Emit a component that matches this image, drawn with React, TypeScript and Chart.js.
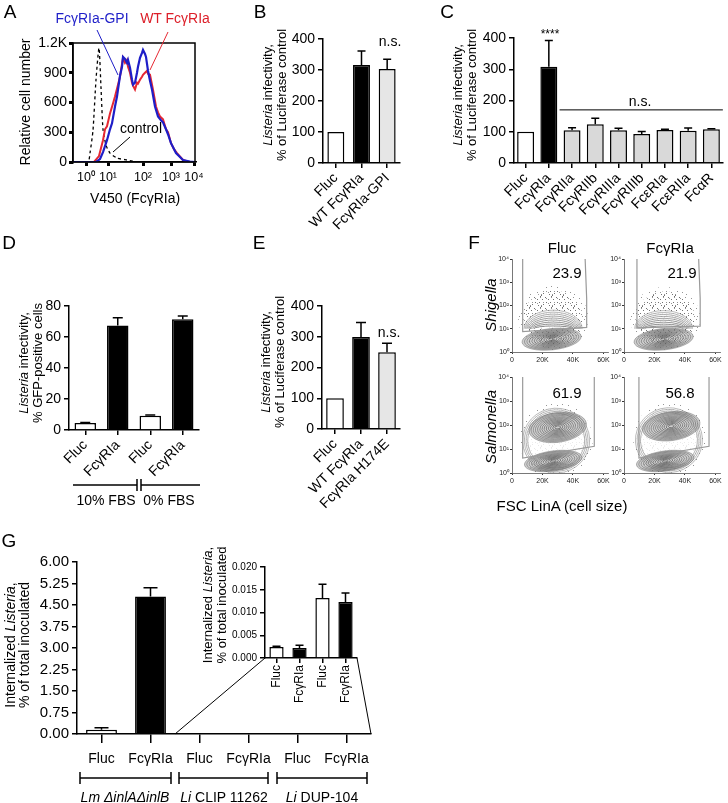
import React, { useEffect, useRef } from 'react';
import { Chart, registerables } from 'chart.js';

Chart.register(...registerables);

const FONT = '"Liberation Sans", Arial, Helvetica, sans-serif';
Chart.defaults.font.family = FONT;
Chart.defaults.color = '#000';

// ---------------- DATA ----------------
// Panel A (flow histogram; x in display channel units)
const aTickPos = [13, 35, 70, 98, 121];
const aTickLabels = ['10⁰', '10¹', '10²', '10³', '10⁴'];
const aYTicks = [0, 300, 600, 900, 1200];
const aCtrlX = [0, 15, 17, 20, 23, 26, 28, 30, 33, 37, 44, 54, 65, 122];
const aCtrlY = [0, 0, 90, 320, 830, 1150, 750, 330, 170, 90, 40, 20, 0, 0];
const aWtX = [0, 21, 26, 30, 32, 34, 37, 40, 42, 45, 47, 49, 50, 52, 54, 55, 57, 59, 60, 62, 64, 65, 67, 69, 70, 72, 74, 75, 77, 80, 83, 85, 87, 90, 93, 95, 98, 101, 104, 110, 116, 122];
const aWtY = [0, 0, 60, 220, 330, 360, 490, 590, 660, 780, 860, 990, 1050, 1000, 1030, 960, 900, 800, 770, 730, 800, 790, 830, 860, 880, 900, 920, 890, 880, 730, 560, 500, 460, 430, 330, 300, 190, 130, 90, 20, 0, 0];
const aGpiX = [0, 23, 27, 30, 34, 37, 39, 42, 44, 47, 49, 50, 52, 54, 55, 57, 59, 60, 62, 64, 65, 67, 69, 70, 72, 73, 75, 77, 79, 82, 85, 88, 90, 93, 95, 98, 103, 110, 117, 122];
const aGpiY = [0, 0, 30, 100, 220, 330, 390, 560, 660, 870, 960, 1060, 1040, 1000, 1030, 950, 830, 780, 800, 900, 960, 1050, 1100, 1130, 1090, 1060, 920, 820, 730, 560, 460, 420, 400, 330, 280, 190, 90, 20, 5, 0];

// Panel B
const bLabels = ['Fluc', 'WT FcγRIa', 'FcγRIa-GPI'];
const bValues = [100, 316, 303];
const bErrors = [null, 361, 335];

// Panel C
const cLabels = ['Fluc', 'FcγRIa', 'FcγRIIa', 'FcγRIIb', 'FcγRIIIa', 'FcγRIIIb', 'FcεRIa', 'FcεRIIa', 'FcαR'];
const cValues = [100, 308, 105, 124, 105, 93, 106, 103, 108];
const cErrors = [null, 392, 113, 143, 111, 101, 108, 112, 110];
const cNsValue = 170;

// Panel D
const dLabels = ['Fluc', 'FcγRIa', 'Fluc', 'FcγRIa'];
const dValues = [4.5, 67.5, 9.2, 71.5];
const dErrors = [4.8, 72.5, 9.7, 73.5];

// Panel E
const eLabels = ['Fluc', 'WT FcγRIa', 'FcγRIa H174E'];
const eValues = [100, 299, 250];
const eErrors = [null, 346, 279];

// Panel F (flow plots)
const fXTicks = [0, 20000, 40000, 60000];
const fXLabels = ['0', '20K', '40K', '60K'];
const fYTicks = [1, 10, 100, 1000, 10000];
const fYLabels = ['10⁰', '10¹', '10²', '10³', '10⁴'];
// gates: [FSC, fluorescence]
const fShFlucGate = [[7000, 10000], [7000, 7.5], [49000, 11.5], [49000, 200], [48000, 10000]];
const fShFcGate = [[8500, 10000], [8500, 11], [50000, 13], [50000, 200], [49000, 10000]];
const fSaFlucGate = [[7000, 10000], [7000, 4.2], [54000, 13], [54000, 10000]];
const fSaFcGate = [[9800, 10000], [9800, 4.2], [55800, 13], [55800, 10000]];
// populations: [cx, log10 cy, rx, log10 ry, tilt, levels, arch, minLevel]
const fShFlucPops = [[27000, 1.0, 19000, 0.8, 0, 9, 1, 0.15], [26000, 0.55, 19500, 0.46, -6, 12, 0, 0.1]];
const fShFcPops = [[26000, 1.0, 19000, 0.78, 0, 9, 1, 0.15], [26000, 0.55, 19500, 0.46, -6, 12, 0, 0.1]];
const fSaFlucPops = [[29000, 1.35, 22000, 1.35, -3, 4, 0, 0.85], [30000, 1.9, 19000, 0.62, -8, 13, 0, 0.1], [27000, 0.5, 19000, 0.42, -8, 12, 0, 0.1]];
const fSaFcPops = [[29500, 1.37, 22000, 1.35, -3, 4, 0, 0.85], [31000, 1.95, 19000, 0.6, -8, 13, 0, 0.1], [27000, 0.5, 19000, 0.42, -8, 12, 0, 0.1]];
const fShFlucEnv = [27000, 1.45, 23000, 1.4];
const fShFcEnv = [27000, 1.45, 23000, 1.35];
const fSaFlucEnv = [29000, 1.35, 24000, 1.6];
const fSaFcEnv = [30000, 1.37, 24000, 1.6];
const fPercents = ['23.9', '21.9', '61.9', '56.8'];

// Panel G
const gLabels = ['Fluc', 'FcγRIa', 'Fluc', 'FcγRIa', 'Fluc', 'FcγRIa'];
const gValues = [0.15, 4.8, null, null, null, null];
const gErrors = [0.22, 5.1, null, null, null, null];
const gInsetLabels = ['Fluc', 'FcγRIa', 'Fluc', 'FcγRIa'];
const gInsetValues = [0.0024, 0.0022, 0.0132, 0.0123];
const gInsetErrors = [0.0026, 0.0028, 0.0162, 0.0143];

// ---------------- PLUGINS ----------------
const errPlugin = {
  id: 'errbars',
  afterDatasetsDraw(chart: any, _a: any, opts: any) {
    const errs = opts && opts.errors;
    if (!errs) return;
    const meta = chart.getDatasetMeta(0);
    const ys = chart.scales.y;
    const ctx = chart.ctx;
    ctx.save();
    ctx.strokeStyle = '#000';
    ctx.lineWidth = opts.lw || 1.5;
    meta.data.forEach((bar: any, i: number) => {
      const e = errs[i];
      const v = chart.data.datasets[0].data[i];
      if (e == null || v == null) return;
      const x = bar.x;
      const y0 = ys.getPixelForValue(v);
      const y1 = ys.getPixelForValue(e);
      ctx.beginPath();
      ctx.moveTo(x, y0);
      ctx.lineTo(x, y1);
      ctx.moveTo(x - opts.cap / 2, y1);
      ctx.lineTo(x + opts.cap / 2, y1);
      ctx.stroke();
    });
    ctx.restore();
  },
};

const nsLinePlugin = {
  id: 'nsline',
  afterDatasetsDraw(chart: any, _a: any, opts: any) {
    if (!opts || opts.value == null) return;
    const meta = chart.getDatasetMeta(0);
    const b0 = meta.data[opts.from];
    const b1 = meta.data[opts.to];
    const y = chart.scales.y.getPixelForValue(opts.value);
    const ctx = chart.ctx;
    ctx.save();
    ctx.strokeStyle = '#000';
    ctx.lineWidth = 1;
    ctx.beginPath();
    ctx.moveTo(b0.x - b0.width / 2 - 4, y);
    ctx.lineTo(b1.x + b1.width / 2 + 3, y);
    ctx.stroke();
    ctx.restore();
  },
};

const framePlugin = {
  id: 'frame',
  afterDraw(chart: any) {
    const { ctx, chartArea: a } = chart;
    ctx.save();
    ctx.strokeStyle = '#000';
    ctx.lineWidth = 1.5;
    ctx.strokeRect(a.left, a.top, a.right - a.left, a.bottom - a.top);
    ctx.restore();
  },
};

function dotPattern(ctx: CanvasRenderingContext2D, alpha: number, dense: boolean) {
  const c = document.createElement('canvas');
  c.width = 11;
  c.height = 11;
  const g = c.getContext('2d')!;
  g.fillStyle = `rgba(20,20,20,${alpha})`;
  const spots = dense
    ? [[1, 0], [6, 1], [9, 3], [3, 3], [0, 6], [7, 6], [4, 8], [10, 9], [2, 10]]
    : [[1, 1], [7, 2], [4, 6], [9, 7], [2, 9]];
  spots.forEach(([x, y]) => g.fillRect(x, y, 1, 1));
  return ctx.createPattern(c, 'repeat');
}

const flowPlugin = {
  id: 'flow',
  beforeDatasetsDraw(chart: any, _a: any, opts: any) {
    if (!opts || !opts.pops) return;
    const { ctx, chartArea: ca, scales } = chart;
    const xs = scales.x, ys = scales.y;
    const px = (v: number) => xs.getPixelForValue(v);
    const py = (l: number) => ys.getPixelForValue(Math.pow(10, l));
    ctx.save();
    ctx.beginPath();
    ctx.rect(ca.left, ca.top, ca.right - ca.left, ca.bottom - ca.top);
    ctx.clip();
    const env = opts.env;
    const EX = px(env[0]), EY = py(env[1]);
    const ERX = px(env[0] + env[2]) - EX, ERY = EY - py(env[1] + env[3]);
    ctx.fillStyle = dotPattern(ctx, 0.45, false);
    ctx.beginPath();
    ctx.ellipse(EX, EY, ERX, ERY, 0, 0, Math.PI * 2);
    ctx.fill();
    ctx.fillStyle = dotPattern(ctx, 0.6, true);
    ctx.beginPath();
    ctx.ellipse(EX, EY, ERX * 0.85, ERY * 0.85, 0, 0, Math.PI * 2);
    ctx.fill();
    for (const p of opts.pops) {
      const [cx, cl, rx, rl, ang, n, arch, minS] = p;
      const X = px(cx), Y = py(cl);
      const RX = px(cx + rx) - X, RY = Y - py(cl + rl);
      const rot = (ang * Math.PI) / 180;
      ctx.beginPath();
      if (arch) ctx.ellipse(X, Y, RX, RY, 0, Math.PI, Math.PI * 2);
      else ctx.ellipse(X, Y, RX, RY, rot, 0, Math.PI * 2);
      ctx.fillStyle = arch || minS > 0.5 ? 'rgba(255,255,255,0.85)' : 'rgba(175,175,175,0.6)';
      ctx.fill();
      ctx.lineWidth = 0.7;
      for (let k = 0; k < n; k++) {
        const s = 1 - ((1 - minS) * k) / Math.max(1, n - 1);
        ctx.strokeStyle = `rgba(60,60,60,${0.5 + 0.4 * (1 - s)})`;
        ctx.beginPath();
        if (arch) ctx.ellipse(X, Y, RX * (0.6 + 0.4 * s), RY * s, 0, Math.PI, Math.PI * 2);
        else ctx.ellipse(X, Y, RX * s, RY * s, rot, 0, Math.PI * 2);
        ctx.stroke();
      }
    }
    ctx.restore();
  },
};

// ---------------- HELPERS ----------------
function axisGrid(tickLen: number, tickW = 1.5) {
  return {
    display: true,
    drawOnChartArea: false,
    drawTicks: true,
    tickLength: tickLen,
    tickWidth: tickW,
    tickColor: '#000',
    color: '#000',
    lineWidth: tickW,
    offset: false,
  };
}
const border = (w = 1.5, c = '#000') => ({ display: true, color: c, width: w });

function makeBar(canvas: HTMLCanvasElement, s: any) {
  return new Chart(canvas, {
    type: 'bar',
    data: {
      labels: s.labels,
      datasets: [
        {
          data: s.values,
          backgroundColor: s.colors,
          borderColor: '#000',
          borderWidth: 1.5,
          barPercentage: s.barPct,
          categoryPercentage: 1,
        },
      ],
    },
    options: {
      responsive: false,
      animation: false,
      devicePixelRatio: 1,
      layout: { padding: { top: s.padTop, right: s.padRight, left: 0, bottom: 0 } },
      plugins: {
        legend: { display: false },
        tooltip: { enabled: false },
        errbars: { errors: s.errors, cap: s.cap },
        nsline: s.ns || {},
      },
      scales: {
        x: {
          type: 'category',
          offset: true,
          grid: axisGrid(s.xTickLen ?? 5),
          border: border(),
          ticks: {
            autoSkip: false,
            minRotation: s.rot,
            maxRotation: s.rot,
            padding: s.xPad ?? 2,
            font: { size: s.xFont },
            color: '#000',
          },
          afterFit: (sc: any) => {
            sc.height = s.xH;
            sc.paddingLeft = 0;
            sc.paddingRight = 0;
          },
        },
        y: {
          type: 'linear',
          min: s.yMin,
          max: s.yMax,
          grid: axisGrid(5),
          border: border(),
          ticks: {
            stepSize: s.yStep,
            font: { size: s.yFont },
            padding: 3,
            color: '#000',
            callback: s.yFmt,
          },
          afterFit: (sc: any) => {
            sc.width = s.yW;
            sc.paddingTop = 0;
            sc.paddingBottom = 0;
          },
        },
      },
    } as any,
    plugins: [errPlugin, nsLinePlugin],
  });
}

const pts = (xs: number[], ys: number[]) => xs.map((x, i) => ({ x, y: ys[i] }));

function makeHist(canvas: HTMLCanvasElement) {
  return new Chart(canvas, {
    type: 'scatter',
    data: {
      datasets: [
        { data: pts(aGpiX, aGpiY), showLine: true, borderColor: 'rgb(30,30,200)', borderWidth: 2.2, pointRadius: 0, tension: 0 },
        { data: pts(aWtX, aWtY), showLine: true, borderColor: 'rgb(230,40,50)', borderWidth: 2, pointRadius: 0, tension: 0 },
        { data: pts(aCtrlX, aCtrlY), showLine: true, borderColor: '#000', borderDash: [3, 3], borderWidth: 1.3, pointRadius: 0, tension: 0.2 },
      ],
    },
    options: {
      responsive: false,
      animation: false,
      devicePixelRatio: 1,
      layout: { padding: { top: 8, right: 13, left: 0, bottom: 0 } },
      plugins: { legend: { display: false }, tooltip: { enabled: false } },
      scales: {
        x: {
          type: 'linear',
          min: 0,
          max: 122,
          afterBuildTicks: (sc: any) => {
            sc.ticks = aTickPos.map((v) => ({ value: v }));
          },
          ticks: { font: { size: 12.5 }, padding: 4, color: '#000', callback: (v: any) => aTickLabels[aTickPos.indexOf(v)] },
          grid: axisGrid(4, 3),
          border: border(1.5),
          afterFit: (sc: any) => {
            sc.height = 33;
            sc.paddingLeft = 0;
            sc.paddingRight = 0;
          },
        },
        y: {
          type: 'linear',
          min: 0,
          max: 1200,
          afterBuildTicks: (sc: any) => {
            sc.ticks = aYTicks.map((v) => ({ value: v }));
          },
          ticks: { font: { size: 14 }, padding: 2, color: '#000', callback: (v: any) => (v === 1200 ? '1.2K' : String(v)) },
          grid: axisGrid(4, 3),
          border: border(1.5),
          afterFit: (sc: any) => {
            sc.width = 43;
            sc.paddingTop = 0;
            sc.paddingBottom = 0;
          },
        },
      },
    } as any,
    plugins: [framePlugin],
  });
}

function makeFlow(canvas: HTMLCanvasElement, gate: number[][], pops: number[][], env: number[]) {
  return new Chart(canvas, {
    type: 'scatter',
    data: {
      datasets: [
        {
          data: gate.map((p) => ({ x: p[0], y: p[1] })),
          showLine: true,
          borderColor: '#9a9a9a',
          borderWidth: 1.2,
          pointRadius: 0,
          tension: 0,
        },
      ],
    },
    options: {
      responsive: false,
      animation: false,
      devicePixelRatio: 1,
      layout: { padding: { top: 7, right: 3, left: 0, bottom: 0 } },
      plugins: { legend: { display: false }, tooltip: { enabled: false }, flow: { pops, env } },
      scales: {
        x: {
          type: 'linear',
          min: 0,
          max: 63000,
          afterBuildTicks: (sc: any) => {
            sc.ticks = fXTicks.map((v) => ({ value: v }));
          },
          ticks: { font: { size: 7 }, padding: 2, color: '#222', callback: (v: any) => fXLabels[fXTicks.indexOf(v)] },
          grid: axisGrid(2, 0.8),
          border: border(0.8, '#555'),
          afterFit: (sc: any) => {
            sc.height = 16;
            sc.paddingLeft = 0;
            sc.paddingRight = 0;
          },
        },
        y: {
          type: 'logarithmic',
          min: 1,
          max: 10000,
          afterBuildTicks: (sc: any) => {
            sc.ticks = fYTicks.map((v) => ({ value: v }));
          },
          ticks: { font: { size: 7 }, padding: 1, color: '#222', callback: (v: any) => fYLabels[fYTicks.indexOf(v)] },
          grid: axisGrid(2, 0.8),
          border: border(0.8, '#555'),
          afterFit: (sc: any) => {
            sc.width = 17;
            sc.paddingTop = 0;
            sc.paddingBottom = 0;
          },
        },
      },
    } as any,
    plugins: [flowPlugin],
  });
}

// ---------------- COMPONENTS ----------------
function ChartCanvas({ x, y, w, h, make }: any) {
  const ref = useRef<HTMLCanvasElement>(null);
  useEffect(() => {
    const chart = make(ref.current);
    return () => chart.destroy();
  }, []);
  return (
    <canvas
      ref={ref}
      width={w}
      height={h}
      style={{ position: 'absolute', left: x, top: y, width: w, height: h, display: 'block' }}
    />
  );
}

function T({ x, y, size = 14, rot = 0, italic = false, color = '#000', children, lh }: any) {
  return (
    <div
      style={{
        position: 'absolute',
        left: x,
        top: y,
        transform: `translate(-50%, -50%) rotate(${rot}deg)`,
        fontSize: size,
        fontStyle: italic ? 'italic' : 'normal',
        color,
        whiteSpace: 'nowrap',
        textAlign: 'center',
        lineHeight: lh ? `${lh}px` : 'normal',
        fontFamily: FONT,
      }}
    >
      {children}
    </div>
  );
}

const listeriaInf = (
  <>
    <i>Listeria</i> infectivity,
  </>
);
const internalized = (
  <>
    Internalized <i>Listeria</i>,
  </>
);

export default function App() {
  const white = '#ffffff', black = '#000000', gray = '#d9d9d9', light = '#e6e6e6';
  return (
    <div style={{ position: 'absolute', left: 0, top: 0, width: 728, height: 803, background: '#fff', overflow: 'hidden', fontFamily: FONT }}>
      {/* Panel A */}
      <ChartCanvas x={30} y={35} w={178} h={160} make={(c: HTMLCanvasElement) => makeHist(c)} />
      {/* Panel B */}
      <ChartCanvas
        x={285} y={30} w={120} h={200}
        make={(c: HTMLCanvasElement) =>
          makeBar(c, {
            labels: bLabels, values: bValues, errors: bErrors, colors: [white, black, light],
            yMin: 0, yMax: 400, yStep: 100, rot: 45, xFont: 14, yFont: 14,
            yW: 38, xH: 67, padTop: 9, padRight: 5, barPct: 0.66, cap: 8,
          })
        }
      />
      {/* Panel C */}
      <ChartCanvas
        x={470} y={28} w={258} h={200}
        make={(c: HTMLCanvasElement) =>
          makeBar(c, {
            labels: cLabels, values: cValues, errors: cErrors,
            colors: [white, black, gray, gray, gray, gray, gray, gray, gray],
            yMin: 0, yMax: 400, yStep: 100, rot: 45, xFont: 14, yFont: 14,
            yW: 44, xH: 65, padTop: 10, padRight: 5, barPct: 0.73, cap: 8,
            ns: { from: 2, to: 8, value: cNsValue },
          })
        }
      />
      {/* Panel D */}
      <ChartCanvas
        x={20} y={298} w={183} h={182}
        make={(c: HTMLCanvasElement) =>
          makeBar(c, {
            labels: dLabels, values: dValues, errors: dErrors, colors: [white, black, white, black],
            yMin: 0, yMax: 80, yStep: 20, rot: 45, xFont: 14, yFont: 14,
            yW: 49, xH: 50, padTop: 8, padRight: 4, barPct: 0.66, cap: 10,
          })
        }
      />
      {/* Panel E */}
      <ChartCanvas
        x={280} y={296} w={125} h={230}
        make={(c: HTMLCanvasElement) =>
          makeBar(c, {
            labels: eLabels, values: eValues, errors: eErrors, colors: [white, black, light],
            yMin: 0, yMax: 400, yStep: 100, rot: 45, xFont: 14, yFont: 14,
            yW: 42, xH: 97, padTop: 10, padRight: 5, barPct: 0.68, cap: 10,
          })
        }
      />
      {/* Panel F */}
      <ChartCanvas x={495} y={252} w={116} h={116} make={(c: HTMLCanvasElement) => makeFlow(c, fShFlucGate, fShFlucPops, fShFlucEnv)} />
      <ChartCanvas x={607} y={252} w={116} h={116} make={(c: HTMLCanvasElement) => makeFlow(c, fShFcGate, fShFcPops, fShFcEnv)} />
      <ChartCanvas x={495} y={370} w={116} h={119} make={(c: HTMLCanvasElement) => makeFlow(c, fSaFlucGate, fSaFlucPops, fSaFlucEnv)} />
      <ChartCanvas x={607} y={370} w={116} h={119} make={(c: HTMLCanvasElement) => makeFlow(c, fSaFcGate, fSaFcPops, fSaFcEnv)} />
      {/* Panel G */}
      <ChartCanvas
        x={20} y={552} w={355} h={215}
        make={(c: HTMLCanvasElement) =>
          makeBar(c, {
            labels: gLabels, values: gValues, errors: gErrors, colors: [white, black, white, black, white, black],
            yMin: 0, yMax: 6, yStep: 0.75, rot: 0, xFont: 14, yFont: 15,
            yFmt: (v: any) => Number(v).toFixed(2),
            yW: 57, xH: 33, padTop: 10, padRight: 4, barPct: 0.63, cap: 14, xTickLen: 9, xPad: 8,
          })
        }
      />
      <ChartCanvas
        x={222} y={560} w={140} h={160}
        make={(c: HTMLCanvasElement) =>
          makeBar(c, {
            labels: gInsetLabels, values: gInsetValues, errors: gInsetErrors, colors: [white, black, white, black],
            yMin: 0, yMax: 0.02, yStep: 0.005, rot: 90, xFont: 12, yFont: 10,
            yFmt: (v: any) => Number(v).toFixed(3),
            yW: 43, xH: 62, padTop: 7, padRight: 5, barPct: 0.62, cap: 8, xTickLen: 5,
          })
        }
      />

      {/* Annotation lines */}
      <svg width={728} height={803} style={{ position: 'absolute', left: 0, top: 0, pointerEvents: 'none' }}>
        <line x1={97} y1={30} x2={118} y2={75} stroke="rgb(30,30,200)" strokeWidth={1} />
        <line x1={168} y1={32} x2={150} y2={70} stroke="rgb(230,40,50)" strokeWidth={1} />
        <line x1={130} y1={137} x2={113} y2={152} stroke="#000" strokeWidth={1} />
        {/* D bracket */}
        <line x1={73} y1={485} x2={137} y2={485} stroke="#000" strokeWidth={1.5} />
        <line x1={141} y1={485} x2={200} y2={485} stroke="#000" strokeWidth={1.5} />
        <line x1={137} y1={479} x2={137} y2={491} stroke="#000" strokeWidth={1.5} />
        <line x1={141} y1={479} x2={141} y2={491} stroke="#000" strokeWidth={1.5} />
        {/* G brackets */}
        {[[80, 171], [179, 268], [277, 367]].map(([a, b], i) => (
          <g key={i} stroke="#000" strokeWidth={1.5}>
            <line x1={a} y1={778} x2={b} y2={778} />
            <line x1={a} y1={772} x2={a} y2={784} />
            <line x1={b} y1={772} x2={b} y2={784} />
          </g>
        ))}
        {/* zoom lines */}
        <line x1={175} y1={734} x2={265} y2={658} stroke="#000" strokeWidth={1} />
        <line x1={371} y1={734} x2={357} y2={658} stroke="#000" strokeWidth={1} />
      </svg>

      {/* Panel letters */}
      <T x={10} y={12} size={19}>A</T>
      <T x={260} y={12} size={19}>B</T>
      <T x={447} y={12} size={19}>C</T>
      <T x={9} y={243} size={19}>D</T>
      <T x={259} y={243} size={19}>E</T>
      <T x={474} y={243} size={19}>F</T>
      <T x={9} y={541} size={19}>G</T>

      {/* Panel A texts */}
      <T x={92} y={18} size={14} color="rgb(30,30,200)">FcγRIa-GPI</T>
      <T x={175} y={18} size={14} color="rgb(220,30,40)">WT FcγRIa</T>
      <T x={141} y={128} size={14}>control</T>
      <T x={25} y={102} size={14} rot={-90}>Relative cell number</T>
      <T x={135} y={198} size={14}>V450 (FcγRIa)</T>

      {/* Panel B texts */}
      <T x={275} y={95} size={13} rot={-90} lh={14}>
        <div>{listeriaInf}</div>
        <div>% of Luciferase control</div>
      </T>
      <T x={390} y={41} size={14}>n.s.</T>

      {/* Panel C texts */}
      <T x={465} y={95} size={13} rot={-90} lh={14}>
        <div>{listeriaInf}</div>
        <div>% of Luciferase control</div>
      </T>
      <T x={550} y={34} size={12}>****</T>
      <T x={640} y={101} size={14}>n.s.</T>

      {/* Panel D texts */}
      <T x={31} y={363} size={13} rot={-90} lh={14}>
        <div>{listeriaInf}</div>
        <div>% GFP-positive cells</div>
      </T>
      <T x={106} y={500} size={14}>10% FBS</T>
      <T x={169} y={500} size={14}>0% FBS</T>

      {/* Panel E texts */}
      <T x={273} y={362} size={13} rot={-90} lh={14}>
        <div>{listeriaInf}</div>
        <div>% of Luciferase control</div>
      </T>
      <T x={389} y={332} size={14}>n.s.</T>

      {/* Panel F texts */}
      <T x={562} y={247} size={15}>Fluc</T>
      <T x={670} y={247} size={15}>FcγRIa</T>
      <T x={490} y={305} size={15} rot={-90} italic>Shigella</T>
      <T x={490} y={427} size={15} rot={-90} italic>Salmonella</T>
      <T x={567} y={272} size={15}>{fPercents[0]}</T>
      <T x={682} y={272} size={15}>{fPercents[1]}</T>
      <T x={567} y={392} size={15}>{fPercents[2]}</T>
      <T x={680} y={392} size={15}>{fPercents[3]}</T>
      <T x={562} y={505} size={15}>FSC LinA (cell size)</T>

      {/* Panel G texts */}
      <T x={17} y={645} size={14} rot={-90} lh={14}>
        <div>{internalized}</div>
        <div>% of total inoculated</div>
      </T>
      <T x={215} y={605} size={13} rot={-90} lh={14}>
        <div>{internalized}</div>
        <div>% of total inoculated</div>
      </T>
      <T x={125} y={797} size={14} italic>Lm ΔinlAΔinlB</T>
      <T x={224} y={797} size={14}>
        <i>Li</i> CLIP 11262
      </T>
      <T x={322} y={797} size={14}>
        <i>Li</i> DUP-104
      </T>
    </div>
  );
}
